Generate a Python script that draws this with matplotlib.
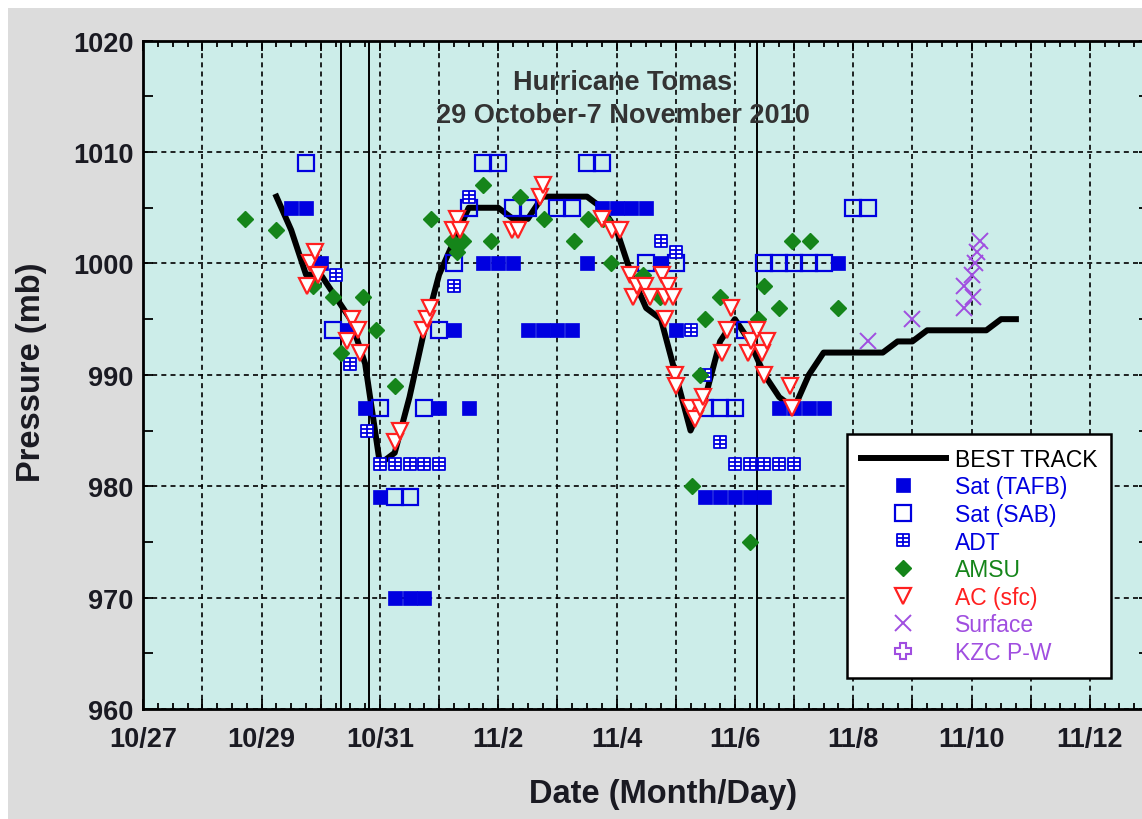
import matplotlib
matplotlib.use('Agg')
import matplotlib.pyplot as plt
from matplotlib.path import Path
from matplotlib.patches import Rectangle
from matplotlib.ticker import MultipleLocator

plt.rcParams['font.family'] = ['Liberation Sans', 'DejaVu Sans']

# all times are days after 0000 UTC 27 October 2010
date_labels = ['10/27', '10/29', '10/31', '11/2', '11/4', '11/6', '11/8', '11/10', '11/12']

bt_day = [2.25, 2.5, 2.75, 3.0, 3.25, 3.5, 3.75, 4.0, 4.25, 4.5, 4.75, 5.0, 5.25,
          5.5, 5.75, 6.0, 6.25, 6.5, 6.75, 7.0, 7.25, 7.5, 7.75, 8.0, 8.25, 8.5,
          8.75, 9.0, 9.25, 9.5, 9.75, 10.0, 10.25, 10.5, 10.75, 11.0, 11.25, 11.5,
          11.75, 12.0, 12.25, 12.5, 12.75, 13.0, 13.25, 13.5, 13.75, 14.0, 14.25,
          14.5, 14.75]
bt_pres = [1006, 1003, 999, 999, 997, 995, 991, 982, 983, 988, 994, 999, 1002,
           1005, 1005, 1005, 1004, 1004, 1006, 1006, 1006, 1006, 1005, 1003, 999, 996,
           995, 990, 985, 988, 993, 995, 993, 990, 988, 987, 990, 992,
           992, 992, 992, 992, 993, 993, 994, 994, 994, 994, 994,
           995, 995]

tafb_day = [2.5, 2.75, 3.0, 3.45, 3.75, 4.0, 4.25, 4.5, 4.75, 5.0, 5.25, 5.5, 5.75,
            6.0, 6.25, 6.5, 6.75, 7.0, 7.25, 7.5, 7.75, 8.0, 8.25, 8.5, 8.75, 9.0,
            9.5, 9.75, 10.0, 10.25, 10.5, 10.75, 11.0, 11.25, 11.5, 11.75]
tafb_pres = [1005, 1005, 1000, 994, 987, 979, 970, 970, 970, 987, 994, 987, 1000,
             1000, 1000, 994, 994, 994, 994, 1000, 1005, 1005, 1005, 1005, 1000, 994,
             979, 979, 979, 979, 979, 987, 987, 987, 987, 1000]

sab_day = [2.75, 3.2, 4.0, 4.25, 4.5, 4.75, 5.0, 5.25, 5.5, 5.75, 6.0, 6.25, 6.5,
           7.0, 7.25, 7.5, 7.75, 8.5, 9.0, 9.5, 9.75, 10.0, 10.17, 10.5, 10.75,
           11.0, 11.25, 11.5, 12.0, 12.25]
sab_pres = [1009, 994, 987, 979, 979, 987, 994, 1000, 1005, 1009, 1009, 1005, 1005,
            1005, 1005, 1009, 1009, 1000, 1000, 987, 987, 987, 994, 1000, 1000,
            1000, 1000, 1000, 1005, 1005]

adt_day = [3.25, 3.5, 3.78, 4.0, 4.25, 4.5, 4.75, 5.0, 5.25, 5.5, 8.75, 9.0, 9.25,
           9.5, 9.75, 10.0, 10.25, 10.5, 10.75, 11.0]
adt_pres = [999, 991, 985, 982, 982, 982, 982, 982, 998, 1006, 1002, 1001, 994,
            990, 984, 982, 982, 982, 982, 982]

amsu_day = [1.72, 2.25, 2.87, 3.21, 3.35, 3.71, 3.94, 4.25, 4.87, 5.21, 5.30, 5.41,
            5.75, 5.87, 6.37, 6.77, 7.28, 7.52, 7.77, 7.90, 8.45, 8.73, 9.28, 9.41,
            9.49, 9.75, 10.26, 10.39, 10.49, 10.75, 10.96, 11.27, 11.75]
amsu_pres = [1004, 1003, 998, 997, 992, 997, 994, 989, 1004, 1002, 1001, 1002,
             1007, 1002, 1006, 1004, 1002, 1004, 1004, 1000, 999, 997, 980, 990,
             995, 997, 975, 995, 998, 996, 1002, 1002, 996]

ac_day = [2.76, 2.82, 2.90, 2.96, 3.44, 3.52, 3.63, 3.66, 4.25, 4.34, 4.72, 4.79,
          4.85, 5.24, 5.30, 5.36, 6.23, 6.34, 6.70, 6.76, 7.75, 7.92, 8.06, 8.23,
          8.28, 8.34, 8.48, 8.56, 8.76, 8.82, 8.87, 8.96, 8.82, 8.99, 9.01, 9.24,
          9.32, 9.41, 9.46, 9.79, 9.86, 9.94, 10.22, 10.28, 10.38, 10.45, 10.54,
          10.49, 10.94, 10.97]
ac_pres = [998, 1000, 1001, 999, 993, 995, 994, 992, 984, 985, 994, 995,
           996, 1003, 1004, 1003, 1003, 1003, 1006, 1007, 1004, 1003, 1003, 999,
           997, 998, 998, 997, 999, 997, 998, 997, 995, 990, 989, 987,
           986, 987, 988, 992, 994, 996, 992, 993, 994, 992, 993,
           990, 989, 987]

sfc_day = [12.25, 13.0, 13.87, 14.02, 13.87, 14.0, 14.06, 14.1, 14.15]
sfc_pres = [993, 995, 996, 997, 998, 999, 1000, 1001, 1002]

kzc_day = []
kzc_pres = []

landfall_day = [3.35, 3.81, 10.37]

# little gridded box used for the ADT fixes
adt_marker = Path(
    [(-1, -1), (1, -1), (1, 1), (-1, 1), (-1, -1),
     (0, -1), (0, 1), (-1, 0.33), (1, 0.33), (-1, -0.33), (1, -0.33)],
    [Path.MOVETO, Path.LINETO, Path.LINETO, Path.LINETO, Path.CLOSEPOLY,
     Path.MOVETO, Path.LINETO, Path.MOVETO, Path.LINETO, Path.MOVETO, Path.LINETO])

W, H = 1142, 820
fig = plt.figure(figsize=(W / 100, H / 100), dpi=100)
fig.patch.set_facecolor('white')
fig.patches.append(Rectangle((8 / W, 0), 1, 1 - 9 / H, transform=fig.transFigure,
                             facecolor='#dcdcdc', edgecolor='none', zorder=-10))

ax = fig.add_axes([143.3 / W, 1 - 710 / H, (1149 - 143.3) / W, (710 - 41.7) / H])
ax.set_facecolor('#ccede9')

blue = '#0000e0'
green = '#15851a'
red = '#ff2020'
purple = '#a04ee0'

for d in landfall_day:
    ax.axvline(d, color='black', lw=1.4, zorder=1.5)

ax.plot(bt_day, bt_pres, color='black', lw=4.3, solid_joinstyle='round',
        label='BEST TRACK', zorder=2)
ax.plot(tafb_day, tafb_pres, 's', color=blue, ms=9.4, mec=blue, mew=0.5,
        label='Sat (TAFB)', zorder=3)
ax.plot(sab_day, sab_pres, 's', ms=12, mfc='none', mec=blue, mew=1.6,
        label='Sat (SAB)', zorder=3)
ax.plot(adt_day, adt_pres, ls='none', marker=adt_marker, ms=8.5, mfc='white',
        mec=blue, mew=1.3, label='ADT', zorder=3)
ax.plot(amsu_day, amsu_pres, 'D', ms=8.3, color=green, label='AMSU', zorder=4)
ax.plot(ac_day, ac_pres, 'v', ms=11, mfc='white', mec=red, mew=1.6,
        label='AC (sfc)', zorder=5)
ax.plot(sfc_day, sfc_pres, 'x', ms=12, mec=purple, mew=1.4, label='Surface', zorder=5)
ax.plot(kzc_day, kzc_pres, 'P', ms=12, mfc='white', mec=purple, mew=1.5,
        label='KZC P-W', zorder=5)

ax.set_xlim(0, 17)
ax.set_ylim(960, 1020)
ax.set_xticks(range(18))
ax.set_xticklabels([date_labels[i // 2] if i % 2 == 0 and i // 2 < len(date_labels) else ''
                    for i in range(18)])
ax.xaxis.set_minor_locator(MultipleLocator(0.25))
ax.yaxis.set_major_locator(MultipleLocator(10))
ax.yaxis.set_minor_locator(MultipleLocator(5))

ax.grid(True, which='major', color='black', lw=1.2, ls=(0, (3, 2.5)))
ax.set_axisbelow(True)

ax.tick_params(which='both', direction='in', top=True, right=True, width=1.3,
               labelsize=19.5, colors='black')
ax.tick_params(axis='x', which='major', length=7, pad=12)
ax.tick_params(axis='x', which='minor', length=4)
ax.tick_params(axis='y', which='both', length=7, pad=7)
for lab in ax.get_xticklabels() + ax.get_yticklabels():
    lab.set_fontweight('bold')
    lab.set_color('#1a1a22')
for sp in ax.spines.values():
    sp.set_linewidth(2)

fig.text(623 / W, 1 - 83 / H, 'Hurricane Tomas', ha='center', va='center',
         fontsize=19.5, fontweight='bold', color='#333333')
fig.text(623 / W, 1 - 116 / H, '29 October-7 November 2010', ha='center', va='center',
         fontsize=19.5, fontweight='bold', color='#333333')
fig.text(663 / W, 1 - 795 / H, 'Date (Month/Day)', ha='center', va='center',
         fontsize=23.5, fontweight='bold', color='#1a1a22')
fig.text(32 / W, 1 - 372 / H, 'Pressure (mb)', ha='center', va='center', rotation=90,
         fontsize=23.5, fontweight='bold', color='#1a1a22')

leg = ax.legend(loc='upper left', bbox_to_anchor=(847 / W, 1 - 435 / H),
                bbox_transform=fig.transFigure, fontsize=16.5, numpoints=1,
                handlelength=3.7, handletextpad=0.4, labelspacing=0.2,
                borderpad=0.6, borderaxespad=0, fancybox=False, framealpha=1,
                edgecolor='black', facecolor='white')
leg.get_frame().set_linewidth(1.8)
for t, c in zip(leg.get_texts(), ['black', blue, blue, blue, green, red, purple, purple]):
    t.set_color(c)

fig.savefig('out.png', dpi=100, facecolor=fig.get_facecolor())
